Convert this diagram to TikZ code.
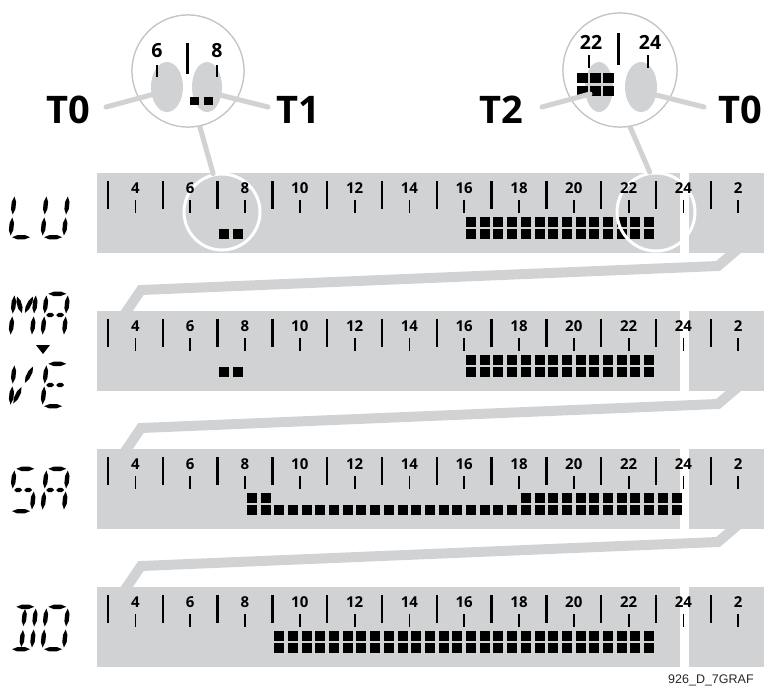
\documentclass[tikz,border=0pt]{standalone}
\usepackage{fontspec}
\setmainfont{Open Sans}
\newfontfamily\codefont{Liberation Sans}
\usetikzlibrary{calc,shapes.geometric}
\definecolor{barg}{HTML}{D1D2D4}
\definecolor{ringg}{HTML}{C4C4C4}
\newcommand\blkrow[4]{\foreach \s in {#2,...,#3}{\fill ({108+(\s/2-3)*27.4+1.85},{#1+#4}) rectangle ++(10,10);}}
\newcommand\blkone[3]{\blkrow{#1}{#2}{#3}{56}}
\newcommand\blktwo[3]{\blkrow{#1}{#2}{#3}{44}\blkrow{#1}{#2}{#3}{56}}
\newcommand\sgm[4]{\fill (#1,#2) -- ($(#1,#2)!0.3!(#3,#4)!2.2pt!90:(#3,#4)$) -- ($(#1,#2)!0.7!(#3,#4)!2.2pt!90:(#3,#4)$) -- (#3,#4) -- ($(#1,#2)!0.7!(#3,#4)!2.2pt!-90:(#3,#4)$) -- ($(#1,#2)!0.3!(#3,#4)!2.2pt!-90:(#3,#4)$) -- cycle;}
\newcommand\SEGa{\sgm{3.5}{1.8}{21.5}{1.8}}
\newcommand\SEGd{\sgm{3.5}{44.2}{21.5}{44.2}}
\newcommand\SEGg{\sgm{3.5}{23}{11.5}{23}}
\newcommand\SEGG{\sgm{13.5}{23}{21.5}{23}}
\newcommand\SEGf{\sgm{1.8}{3.5}{1.8}{21.5}}
\newcommand\SEGe{\sgm{1.8}{24.5}{1.8}{42.5}}
\newcommand\SEGb{\sgm{23.2}{3.5}{23.2}{21.5}}
\newcommand\SEGc{\sgm{23.2}{24.5}{23.2}{42.5}}
\newcommand\SEGi{\sgm{12.5}{4}{12.5}{21}}
\newcommand\SEGl{\sgm{12.5}{25}{12.5}{42}}
\newcommand\SEGh{\sgm{4.5}{4.5}{11}{21}}
\newcommand\SEGj{\sgm{20.5}{4.5}{14}{21}}
\newcommand\SEGk{\sgm{11}{25}{4.5}{41.5}}
\newcommand\SEGm{\sgm{14}{25}{20.5}{41.5}}
\newcommand\segchar[3]{\begin{scope}[shift={(#1,#2)},xslant=0.1]#3\end{scope}}
\begin{document}
\begin{tikzpicture}[x=1pt,y=-1pt,
  band/.style={draw=barg,line width=10pt,line join=miter},
  link/.style={draw=barg,line width=5pt,line cap=round},
  barbox/.style={fill=barg,inner sep=0pt,outer sep=0pt,anchor=north west,minimum height=80pt},
  lnum/.style={font=\bfseries\fontsize{15}{15}\selectfont,inner sep=0pt},
  mnum/.style={font=\bfseries\fontsize{19.5}{20}\selectfont,inner sep=0pt},
  tlab/.style={font=\bfseries\fontsize{38}{38}\selectfont,inner sep=0pt},
  ltick/.style={line width=2.3pt},
  stick/.style={line width=1.8pt},
  whitering/.style={circle,draw=white,line width=3pt,inner sep=0pt},
  magring/.style={circle,draw=ringg,fill=white,line width=1.2pt,inner sep=0pt,minimum size=112pt},
  lens/.style={ellipse,fill=barg,inner sep=0pt,minimum height=50pt}]
\useasboundingbox (0,0) rectangle (764,686);
% zig-zag bands
\foreach \k in {0,1,2}{
  \draw[band] (745,{243+138*\k}) -- (718,{266+138*\k}) -- (141,{290+138*\k}) -- (122,{318+138*\k});
}
% bars
\foreach \k in {0,...,3}{
  \pgfmathsetmacro\yt{173+138*\k}
  \node[barbox,minimum width=583pt] (bl\k) at (97,\yt) {};
  \node[barbox,minimum width=75pt] (br\k) at (689,\yt) {};
}
% blocks
\blkone{173}{14}{15}\blktwo{173}{32}{45}
\blkone{311}{14}{15}\blktwo{311}{32}{45}
\blktwo{449}{16}{17}\blkone{449}{18}{35}\blktwo{449}{36}{47}
\blktwo{587}{18}{45}
% white rings on first bar
\node[whitering,minimum size=76pt] (ring1) at (222,212) {};
\node[whitering,minimum size=78pt] (ring2) at (656,212) {};
% ticks and numbers
\foreach \k in {0,...,3}{
  \pgfmathsetmacro\yt{173+138*\k}
  \foreach \h in {3,5,...,25}{
    \draw[ltick] ({108+(\h-3)*27.4},{\yt+8}) -- ++(0,28);
  }
  \foreach \h/\t in {4/4,6/6,8/8,10/10,12/12,14/14,16/16,18/18,20/20,22/22,24/24,26/2}{
    \node[lnum] (n\k-\h) at ({108+(\h-3)*27.4},{\yt+15}) {\t};
    \draw[stick] ({108+(\h-3)*27.4},{\yt+27}) -- ++(0,13);
  }
}
% magnifiers
\node[magring] (mag1) at (188,71) {};
\node[magring,minimum size=114pt] (mag2) at (620,70) {};
\draw[link] (ring1.103) -- (mag1.-78);
\draw[link] (ring2.99) -- (mag2.-80);
\node[magring] at (mag1) {};
\node[magring,minimum size=114pt] at (mag2) {};
% magnifier 1 content
\node[lens,minimum width=32pt] (e1L) at (167,87) {};
\node[lens,minimum width=30pt] (e1R) at (207,87) {};
\node[mnum] (m6) at (157,50.5) {6};
\node[mnum] (m8) at (217,50.5) {8};
\draw[line width=3pt] (187,43) -- (187,74);
\draw[line width=2.4pt] (157,65) -- (157,77);
\draw[line width=2.4pt] (217,65) -- (217,77);
\fill (190,97) rectangle (199,105);
\fill (204,97) rectangle (213,105);
% magnifier 2 content
\node[lens,minimum width=28pt] (e2L) at (599,87) {};
\node[lens,minimum width=32pt] (e2R) at (641,87) {};
\node[mnum] (m22) at (591,42) {22};
\node[mnum] (m24) at (650,42) {24};
\draw[line width=3pt] (618,33) -- (618,65);
\draw[line width=2.4pt] (589,55) -- (589,68);
\draw[line width=2.4pt] (648,55) -- (648,68);
\foreach \cx in {577,590,603}{
  \foreach \ry in {73,86}{
    \fill (\cx,\ry) rectangle ++(10.5,10);
  }
}
% T labels and pointers
\node[tlab] (T0a) at (68,110) {T0};
\node[tlab] (T1) at (298,110) {T1};
\node[tlab] (T2) at (501,110) {T2};
\node[tlab] (T0b) at (740,110) {T0};
\coordinate (p0a) at (106,107);
\coordinate (q0a) at (162,92);
\coordinate (p1) at (268,107);
\coordinate (q1) at (212,93);
\coordinate (p2) at (542,107);
\coordinate (q2) at (590,94);
\coordinate (p0b) at (704,107);
\coordinate (q0b) at (648,93);
\draw[link] (p0a) -- (q0a);
\draw[link] (p1) -- (q1);
\draw[link] (p2) -- (q2);
\draw[link] (p0b) -- (q0b);
% day letters
\segchar{13}{193}{\SEGf\SEGe\SEGd}
\segchar{45}{193}{\SEGf\SEGe\SEGd\SEGb\SEGc}
\segchar{13}{292}{\SEGf\SEGe\SEGb\SEGc\SEGh\SEGj}
\segchar{45}{292}{\SEGa\SEGf\SEGe\SEGb\SEGc\SEGg\SEGG}
\fill (36,345) -- (50,345) -- (43,354) -- cycle;
\segchar{13}{362}{\SEGf\SEGe\SEGj\SEGk}
\segchar{45}{362}{\SEGa\SEGf\SEGe\SEGd\SEGg\SEGG}
\segchar{13}{467}{\SEGa\SEGf\SEGg\SEGG\SEGc\SEGd}
\segchar{45}{467}{\SEGa\SEGf\SEGe\SEGb\SEGc\SEGg\SEGG}
\segchar{13}{605}{\SEGa\SEGb\SEGc\SEGd\SEGi\SEGl}
\segchar{45}{605}{\SEGa\SEGb\SEGc\SEGd\SEGe\SEGf}
% figure code
\node[anchor=base west,inner sep=0pt,font=\codefont\fontsize{12.5}{13}\selectfont,text=black!85] (code) at (668,683) {926\_D\_7GRAF};
\end{tikzpicture}
\end{document}
